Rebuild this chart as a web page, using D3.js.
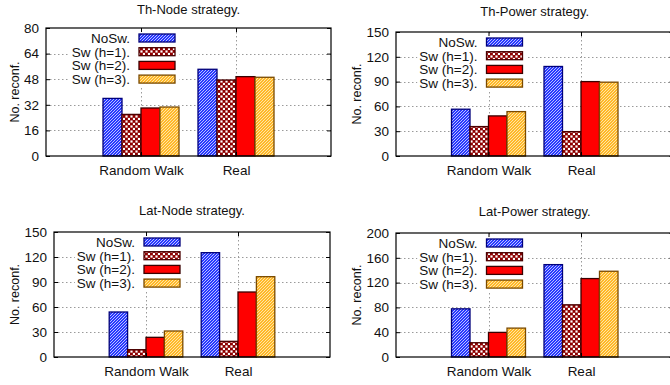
<!DOCTYPE html>
<html><head><meta charset="utf-8">
<script src="https://cdn.jsdelivr.net/npm/d3@7"></script>
<style>
body{margin:0;background:#fff}
svg{display:block}
text{font-family:"Liberation Sans",Arial,Helvetica,sans-serif;fill:#111}
</style>
</head><body>
<svg id="c" width="670" height="385"></svg>
<script>
// ---- data ----
const categories = ["Random Walk", "Real"];
const seriesNames = ["NoSw.", "Sw (h=1).", "Sw (h=2).", "Sw (h=3)."];
const titles = ["Th-Node strategy.", "Th-Power strategy.", "Lat-Node strategy.", "Lat-Power strategy."];
const yLabel = "No. reconf.";

const thNodeRandomWalk = [36, 26, 30, 30.6];
const thNodeReal = [54.2, 47.5, 49.6, 49.2];
const thPowerRandomWalk = [56.6, 35.6, 48.5, 53.7];
const thPowerReal = [108.3, 29.5, 90, 89.3];
const latNodeRandomWalk = [54, 8.8, 23.6, 31.2];
const latNodeReal = [125.2, 18.8, 78, 96.4];
const latPowerRandomWalk = [77.7, 23, 39.7, 46.6];
const latPowerReal = [149, 84.2, 126.5, 138.3];

const thNodeTicks = [0, 16, 32, 48, 64, 80];
const thPowerTicks = [0, 30, 60, 90, 120, 150];
const latNodeTicks = [0, 30, 60, 90, 120, 150];
const latPowerTicks = [0, 40, 80, 120, 160, 200];

// ---- layout ----
const panels = [
  {title: titles[0], values: [thNodeRandomWalk, thNodeReal], ticks: thNodeTicks, left: 46, right: 331, top: 28, bottom: 156, ylabX: 15, titleY: 14},
  {title: titles[1], values: [thPowerRandomWalk, thPowerReal], ticks: thPowerTicks, left: 396, right: 673.5, top: 32, bottom: 156, ylabX: 357, titleY: 16},
  {title: titles[2], values: [latNodeRandomWalk, latNodeReal], ticks: latNodeTicks, left: 54, right: 330, top: 232, bottom: 357, ylabX: 15, titleY: 215},
  {title: titles[3], values: [latPowerRandomWalk, latPowerReal], ticks: latPowerTicks, left: 396, right: 673.5, top: 233, bottom: 357, ylabX: 357, titleY: 216}
];

const svg = d3.select("#c");
const defs = svg.append("defs");

// patterns
const p0 = defs.append("pattern").attr("id", "pNoSw").attr("patternUnits", "userSpaceOnUse").attr("width", 3).attr("height", 3);
p0.append("rect").attr("width", 3).attr("height", 3).attr("fill", "#2838ff");
p0.append("path").attr("d", "M-1,1 L1,-1 M0,3 L3,0 M2,4 L4,2").attr("stroke", "#dfe4ff").attr("stroke-width", 0.8);

const p1 = defs.append("pattern").attr("id", "pSw1").attr("patternUnits", "userSpaceOnUse").attr("width", 5).attr("height", 5);
p1.append("rect").attr("width", 5).attr("height", 5).attr("fill", "#8e0000");
p1.append("rect").attr("x", 0.4).attr("y", 0.4).attr("width", 2.2).attr("height", 2.2).attr("fill", "#fff");
p1.append("rect").attr("x", 2.9).attr("y", 2.9).attr("width", 2.2).attr("height", 2.2).attr("fill", "#fff");

const p3 = defs.append("pattern").attr("id", "pSw3").attr("patternUnits", "userSpaceOnUse").attr("width", 3).attr("height", 3);
p3.append("rect").attr("width", 3).attr("height", 3).attr("fill", "#ffb828");
p3.append("path").attr("d", "M-1,1 L1,-1 M0,3 L3,0 M2,4 L4,2").attr("stroke", "#fff0c8").attr("stroke-width", 0.8);

const fills = ["url(#pNoSw)", "url(#pSw1)", "#ff0000", "url(#pSw3)"];
const strokes = ["#00007a", "#4a0000", "#3a0000", "#7a4a00"];

panels.forEach(p => {
  const g = svg.append("g");
  const x = d3.scaleLinear().domain([-1, 2]).range([p.left, p.right]);
  const y = d3.scaleLinear().domain([0, p.ticks[p.ticks.length - 1]]).range([p.bottom, p.top]);
  const unit = x(1) - x(0);
  const bw = unit / 5;

  // grid
  const grid = g.append("g").attr("stroke", "#9a9a9a").attr("stroke-width", 1).attr("stroke-dasharray", "1.5,2.5");
  p.ticks.slice(1, -1).forEach(t => {
    grid.append("line").attr("x1", p.left).attr("x2", p.right).attr("y1", Math.round(y(t)) + 0.5).attr("y2", Math.round(y(t)) + 0.5);
  });
  [0, 1].forEach(c => {
    grid.append("line").attr("x1", Math.round(x(c)) + 0.5).attr("x2", Math.round(x(c)) + 0.5).attr("y1", p.top).attr("y2", p.bottom);
  });

  // bars
  categories.forEach((cat, ci) => {
    p.values[ci].forEach((v, si) => {
      const bx = x(ci) + (si - 2) * bw;
      g.append("rect")
        .attr("x", bx).attr("y", y(v))
        .attr("width", bw).attr("height", y(0) - y(v))
        .attr("fill", fills[si]).attr("stroke", strokes[si]).attr("stroke-width", 1.3);
    });
  });

  // legend
  const sampleX = x(0) - 2;
  const lg = g.append("g");
  const bg = lg.append("rect").attr("fill", "#fff");
  let minX = sampleX;
  seriesNames.forEach((name, si) => {
    const ry = p.top + 10 + 13.7 * si;
    const t = lg.append("text").attr("x", sampleX - 9).attr("y", ry).attr("dy", "0.36em")
      .attr("text-anchor", "end").attr("font-size", "13.5px").text(name);
    const bb = t.node().getBBox();
    minX = Math.min(minX, bb.x);
    lg.append("rect").attr("x", sampleX).attr("y", ry - 4).attr("width", 36).attr("height", 8)
      .attr("fill", fills[si]).attr("stroke", strokes[si]).attr("stroke-width", 1.3);
  });
  bg.attr("x", minX - 2).attr("y", p.top + 2).attr("width", sampleX + 40 - (minX - 2)).attr("height", 58);

  // border
  g.append("rect").attr("x", p.left).attr("y", p.top).attr("width", p.right - p.left).attr("height", p.bottom - p.top)
    .attr("fill", "none").attr("stroke", "#000").attr("stroke-width", 1.2);

  // axes
  const ax = (sel) => { sel.select(".domain").remove(); sel.attr("font-size", "13.5px").attr("font-family", null).attr("color", "#000"); };
  g.append("g").attr("transform", `translate(${p.left},0)`)
    .call(d3.axisLeft(y).tickValues(p.ticks).tickSize(-4).tickPadding(7)).call(ax);
  g.append("g").attr("transform", `translate(${p.right},0)`)
    .call(d3.axisRight(y).tickValues(p.ticks).tickSize(-4).tickFormat("")).call(ax);
  g.append("g").attr("transform", `translate(0,${p.bottom})`)
    .call(d3.axisBottom(x).tickValues([0, 1]).tickFormat(i => categories[i]).tickSize(-4).tickPadding(9)).call(ax);
  g.append("g").attr("transform", `translate(0,${p.top})`)
    .call(d3.axisTop(x).tickValues([0, 1]).tickSize(-4).tickFormat("")).call(ax);

  // title
  g.append("text").attr("x", (p.left + p.right) / 2).attr("y", p.titleY)
    .attr("text-anchor", "middle").attr("font-size", "13px").text(p.title);
  // y label
  g.append("text").attr("transform", `translate(${p.ylabX},${(p.top + p.bottom) / 2}) rotate(-90)`)
    .attr("text-anchor", "middle").attr("dy", "0.35em").attr("font-size", "12.5px").text(yLabel);
});
</script>
</body></html>
